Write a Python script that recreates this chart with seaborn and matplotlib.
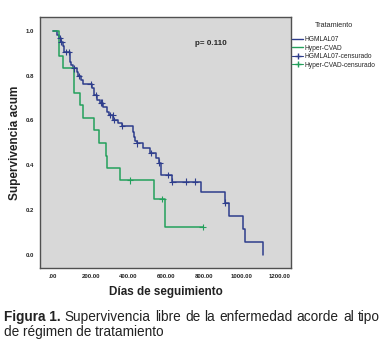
import matplotlib
matplotlib.use("Agg")
import matplotlib.pyplot as plt
from matplotlib.lines import Line2D
import seaborn as sns
import pandas as pd

# ---- data ----
groups = ["HGMLAL07", "Hyper-CVAD"]

hgm_days = [0, 18, 32, 41, 53, 58, 88, 94, 106, 124, 133, 145, 159, 204, 218, 234, 248, 265,
            283, 296, 319, 345, 363, 421, 428, 434, 446, 478, 513, 545, 560, 570, 629, 783,
            912, 935, 1006, 1018, 1115]
hgm_surv = [1.0, 0.98, 0.966, 0.95, 0.93, 0.906, 0.862, 0.847, 0.832, 0.818, 0.798, 0.78, 0.763,
            0.743, 0.714, 0.691, 0.68, 0.659, 0.64, 0.625, 0.602, 0.588, 0.576, 0.55, 0.528, 0.51,
            0.498, 0.476, 0.455, 0.435, 0.412, 0.357, 0.328, 0.28, 0.234, 0.175, 0.116, 0.058, 0.0]
hgm_cens_days = [35, 44, 66, 83, 110, 138, 198, 225, 253, 260, 301, 315, 322, 366, 443, 518,
                 563, 611, 632, 703, 752, 914]
hgm_cens_surv = [0.966, 0.95, 0.906, 0.906, 0.832, 0.798, 0.763, 0.714, 0.68, 0.68, 0.625, 0.625,
                 0.602, 0.576, 0.498, 0.455, 0.412, 0.357, 0.328, 0.328, 0.328, 0.234]

hyp_days = [0, 32, 53, 110, 142, 159, 218, 244, 280, 287, 354, 536, 593, 793]
hyp_surv = [1.0, 0.889, 0.833, 0.722, 0.667, 0.611, 0.556, 0.5, 0.444, 0.389, 0.333, 0.25,
            0.125, 0.125]
hyp_cens_days = [407, 579, 793]
hyp_cens_surv = [0.333, 0.25, 0.125]

x_ticks = [0, 200, 400, 600, 800, 1000, 1200]
x_tick_labels = [".00", "200.00", "400.00", "600.00", "800.00", "1000.00", "1200.00"]
y_ticks = [0.0, 0.2, 0.4, 0.6, 0.8, 1.0]
y_tick_labels = ["0.0", "0.2", "0.4", "0.6", "0.8", "1.0"]

legend_labels = ["HGMLAL07", "Hyper-CVAD", "HGMLAL07-censurado", "Hyper-CVAD-censurado"]
p_text = "p= 0.110"
caption_bold = "Figura 1."
caption_line1 = "Supervivencia libre de la enfermedad acorde al tipo"
caption_line2 = "de régimen de tratamiento"

# ---- styling ----
sns.set_style("white")
plt.rcParams["font.family"] = ["Liberation Sans", "DejaVu Sans"]

BLUE = "#2e3d8c"
GREEN = "#23a05c"
palette = {"HGMLAL07": BLUE, "Hyper-CVAD": GREEN}

curves = pd.concat([
    pd.DataFrame({"dias": hgm_days, "surv": hgm_surv, "grupo": groups[0]}),
    pd.DataFrame({"dias": hyp_days, "surv": hyp_surv, "grupo": groups[1]}),
], ignore_index=True)
cens = pd.concat([
    pd.DataFrame({"dias": hgm_cens_days, "surv": hgm_cens_surv, "grupo": groups[0]}),
    pd.DataFrame({"dias": hyp_cens_days, "surv": hyp_cens_surv, "grupo": groups[1]}),
], ignore_index=True)

W, H = 390, 345
fig = plt.figure(figsize=(W / 100, H / 100), dpi=100)
ax = fig.add_axes([40 / W, (H - 268) / H, 251 / W, 251 / H])
ax.set_facecolor("#d8d8d8")

sns.lineplot(data=curves, x="dias", y="surv", hue="grupo", palette=palette,
             estimator=None, sort=False, drawstyle="steps-post", linewidth=1.1,
             legend=False, ax=ax)
sns.scatterplot(data=cens, x="dias", y="surv", hue="grupo", palette=palette,
                marker="+", s=22, linewidth=0.8, legend=False, ax=ax, zorder=3)

ax.set_xlim(-70, 1262)
ax.set_ylim(-0.057, 1.061)
ax.set_xticks(x_ticks)
ax.set_xticklabels(x_tick_labels)
ax.set_yticks(y_ticks)
ax.set_yticklabels(y_tick_labels)
ax.tick_params(axis="both", direction="out", length=2.5, width=0.6, pad=1.5,
               labelsize=4.3, colors="#222222")
for lbl in ax.get_xticklabels() + ax.get_yticklabels():
    lbl.set_fontweight("bold")
for s in ax.spines.values():
    s.set_color("#505050")
    s.set_linewidth(1.0)

ax.set_xlabel("Días de seguimiento", fontsize=8.4, fontweight="bold", labelpad=5,
              color="#222222")
ax.set_ylabel("Supervivencia acum", fontsize=8.5, fontweight="bold", labelpad=4,
              color="#222222")

ax.text(752, 0.945, p_text, fontsize=5.8, fontweight="bold", ha="left", va="center")

handles = [
    Line2D([], [], color=BLUE, lw=1.0),
    Line2D([], [], color=GREEN, lw=1.0),
    Line2D([], [], color=BLUE, lw=0.8, marker="+", markersize=5),
    Line2D([], [], color=GREEN, lw=0.8, marker="+", markersize=5),
]
leg = fig.legend(handles, legend_labels, title="Tratamiento", loc="upper left",
                 bbox_to_anchor=(291 / W, 1 - 21 / H), frameon=False,
                 fontsize=4.8, title_fontsize=5.2, handlelength=1.6, handletextpad=0.2,
                 labelspacing=0.22, borderaxespad=0.0, borderpad=0.2)
leg._legend_box.sep = 5

# caption, first line justified between x=4 and x=380
fig.canvas.draw()
r = fig.canvas.get_renderer()
CFS = 9.8
y1 = 1 - 321 / H
y2 = 1 - 336 / H
words = [(caption_bold, "bold")] + [(w, "normal") for w in caption_line1.split()]
texts = []
total = 0.0
for w, fw in words:
    t = fig.text(0, y1, w, fontsize=CFS, fontweight=fw, ha="left", va="baseline",
                 color="#222222")
    wd = t.get_window_extent(renderer=r).width
    texts.append((t, wd))
    total += wd
left, right = 4.0, 380.0
gap = (right - left - total) / (len(words) - 1)
x = left
for t, wd in texts:
    t.set_x(x / W)
    x += wd + gap
fig.text(4 / W, y2, caption_line2, fontsize=CFS, ha="left", va="baseline", color="#222222")

fig.savefig("out.png", dpi=100)
